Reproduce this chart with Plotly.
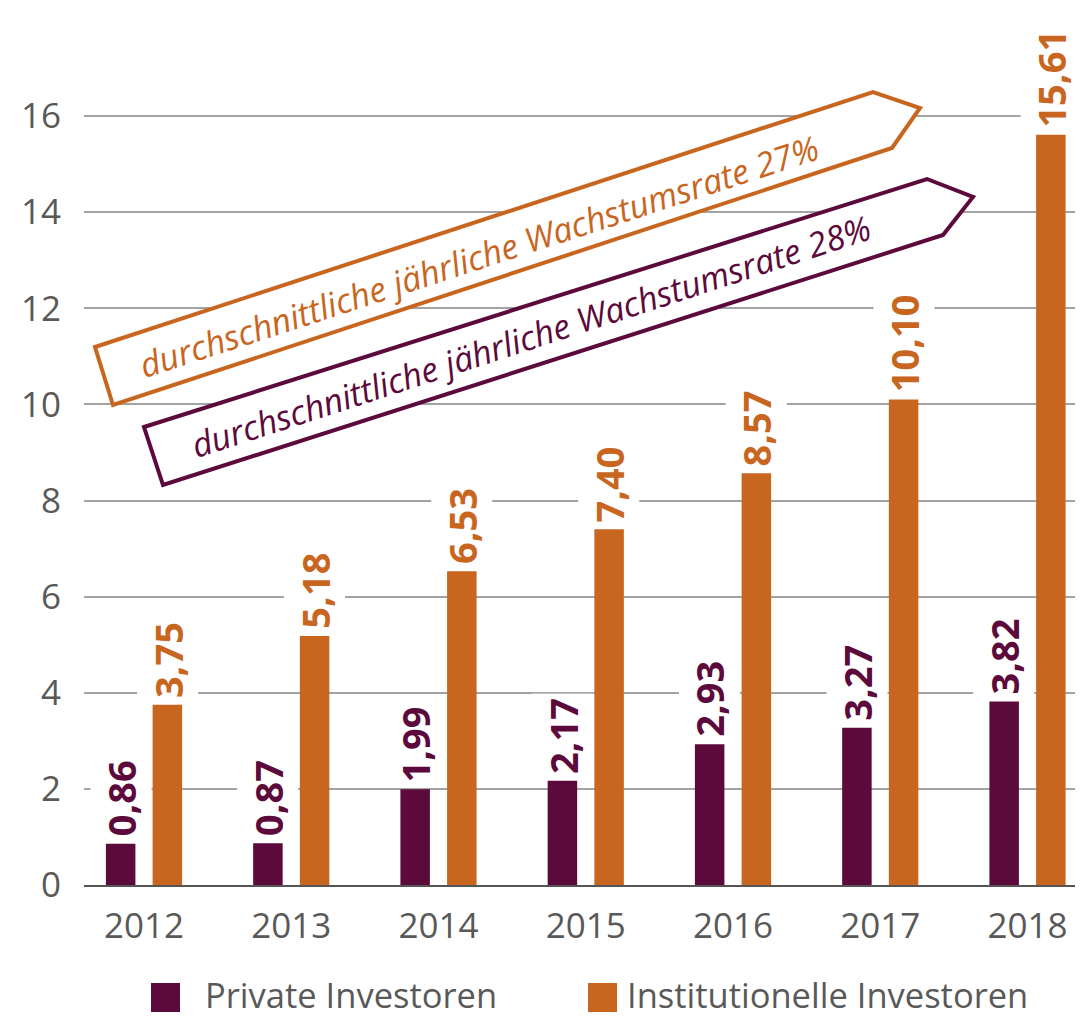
import plotly.graph_objects as go

# ---------------- data ----------------
years = ["2012", "2013", "2014", "2015", "2016", "2017", "2018"]
private_values = [0.86, 0.87, 1.99, 2.17, 2.93, 3.27, 3.82]
institutional_values = [3.75, 5.18, 6.53, 7.40, 8.57, 10.10, 15.61]
series_names = ["Private Investoren", "Institutionelle Investoren"]
y_tick_values = [0, 2, 4, 6, 8, 10, 12, 14, 16]
growth_labels = ["durchschnittliche jährliche Wachstumsrate 27%",
                 "durchschnittliche jährliche Wachstumsrate 28%"]

# ---------------- style ----------------
PURPLE = "#5c0a3b"
ORANGE = "#c8661f"
GRAY_TXT = "#595959"
GRID = "#a3a3a3"

OFF = 8  # page body margin of the browser
W, H = 1083 - OFF, 1017 - OFF
ML, MR, MT, MB = 84 - OFF, 0, 0, 132
PLOT_W = W - ML - MR
PLOT_H = H - MT - MB
PX_PER_UNIT = 48.06
Y_MAX = PLOT_H / PX_PER_UNIT
CAT_STEP = 147.25
CAT0_PX = 144 - OFF
X_RANGE = [(ML - CAT0_PX) / CAT_STEP, (W - MR - CAT0_PX) / CAT_STEP]
BARGAP = 0.366
BARGROUPGAP = 0.368


def fx(px):  # reference-screen pixel -> paper
    return (px - OFF - ML) / PLOT_W


def fy(py):
    return (H - MB - (py - OFF)) / PLOT_H


def fmt(v):
    return f"{v:.2f}".replace(".", ",")


fig = go.Figure()
fig.add_trace(go.Bar(x=years, y=private_values, name=series_names[0],
                     marker=dict(color=PURPLE, line=dict(width=0)), showlegend=False))
fig.add_trace(go.Bar(x=years, y=institutional_values, name=series_names[1],
                     marker=dict(color=ORANGE, line=dict(width=0)), showlegend=False))

annotations = []
offset = (1 - BARGAP) * CAT_STEP / 4
for vals, col, sh in [(private_values, PURPLE, -offset), (institutional_values, ORANGE, offset)]:
    for i, v in enumerate(vals):
        annotations.append(dict(
            x=i, y=v, xref="x", yref="y", text="<b>" + fmt(v) + "</b>", showarrow=False,
            textangle=-90, xanchor="center", yanchor="bottom", xshift=sh, yshift=2,
            bgcolor="white", borderpad=4,
            font=dict(family="Open Sans", size=38, color=col)))

# growth arrows
shapes = []
arrows = [
    ([(95, 347), (873, 92), (920, 108), (892, 148), (113, 405)], ORANGE, (479, 256), growth_labels[0]),
    ([(144, 427), (927, 179), (973, 197), (943, 235), (163, 485)], PURPLE, (531, 336), growth_labels[1]),
]
for pts, col, center, label in arrows:
    path = "M " + " L ".join(f"{fx(a):.5f},{fy(b):.5f}" for a, b in pts) + " Z"
    shapes.append(dict(type="path", path=path, xref="paper", yref="paper",
                       fillcolor="white", line=dict(color=col, width=4), layer="above"))
    annotations.append(dict(x=fx(center[0]), y=fy(center[1]), xref="paper", yref="paper",
                            text=label, showarrow=False, textangle=-18,
                            xanchor="center", yanchor="middle",
                            font=dict(family="Open Sans", size=34, color=col, style="italic")))

# legend (manual, large squares)
legend_items = [(series_names[0], PURPLE, 151, 204), (series_names[1], ORANGE, 588, 626)]
for name, col, sq_x, tx in legend_items:
    shapes.append(dict(type="rect", xref="paper", yref="paper",
                       x0=fx(sq_x), x1=fx(sq_x + 29), y0=fy(1012), y1=fy(983),
                       fillcolor=col, line=dict(width=0)))
    annotations.append(dict(x=fx(tx), y=fy(995), xref="paper", yref="paper",
                            text=name, showarrow=False, xanchor="left", yanchor="middle",
                            borderpad=0,
                            font=dict(family="Open Sans", size=34.5, color=GRAY_TXT)))

fig.update_layout(
    width=W, height=H,
    margin=dict(l=ML, r=MR, t=MT, b=MB),
    paper_bgcolor="white", plot_bgcolor="white",
    barmode="group", bargap=BARGAP, bargroupgap=BARGROUPGAP,
    showlegend=False,
    shapes=shapes, annotations=annotations,
    font=dict(family="Open Sans", color=GRAY_TXT),
)
fig.update_xaxes(type="category", range=X_RANGE, showgrid=False,
                 showline=True, linecolor="#555555", linewidth=2,
                 tickfont=dict(family="Open Sans", size=35, color=GRAY_TXT),
                 ticks="", ticklabelstandoff=9)
fig.update_yaxes(range=[0, Y_MAX], tickvals=y_tick_values,
                 showgrid=True, gridcolor=GRID, gridwidth=2,
                 zeroline=False, showline=False,
                 tickfont=dict(family="Open Sans", size=35, color=GRAY_TXT),
                 ticks="", ticklabelstandoff=22)

fig.write_html("out.html")
